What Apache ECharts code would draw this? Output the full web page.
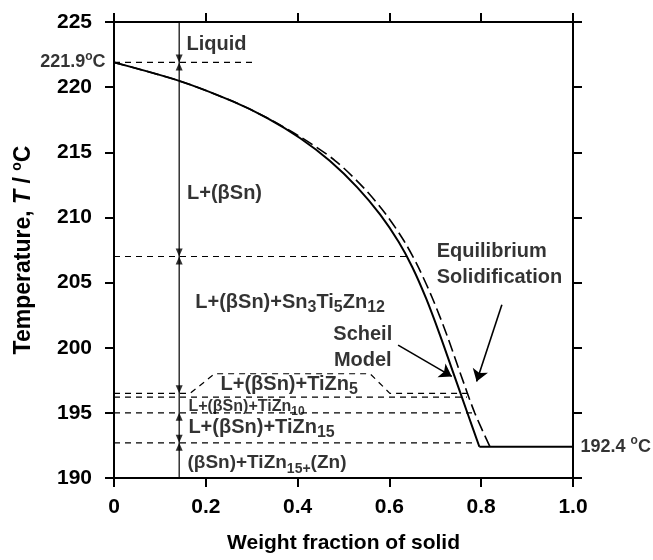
<!DOCTYPE html>
<html>
<head>
<meta charset="utf-8">
<script src="https://cdn.jsdelivr.net/npm/echarts@6/dist/echarts.min.js"></script>
<style>
  html, body { margin: 0; padding: 0; background: #fff; }
  #chart { width: 653px; height: 560px; }
</style>
</head>
<body>
<div id="chart"></div>
<script>
// Solidification path of the Sn-Zn-Ti alloy: temperature vs. weight fraction of solid
const scheilCurve = [
  [0, 221.9], [0.142, 220.48], [0.26, 218.89], [0.333, 217.65], [0.405, 216.1],
  [0.47, 214.35], [0.53, 212.31], [0.58, 210.21], [0.62, 208.13], [0.65, 206.18],
  [0.68, 203.78], [0.71, 200.99], [0.74, 197.99], [0.77, 194.99], [0.796, 192.4]
];
const equilibriumCurve = [
  [0, 221.9], [0.142, 220.48], [0.26, 218.89], [0.333, 217.65], [0.41, 216.1],
  [0.482, 214.35], [0.543, 212.31], [0.593, 210.21], [0.633, 208.13], [0.663, 206.18],
  [0.694, 203.78], [0.725, 200.99], [0.755, 197.99], [0.786, 194.99], [0.819, 192.4]
];
const eutecticLine = [[0.796, 192.4], [1.0, 192.4]];

// phase-field boundaries (temperature, extent along the fraction axis)
const liquidusLine = [[0, 221.9], [0.311, 221.9]];
const sn3ti5zn12Line = [[0, 207.0], [0.645, 207.0]];
const tizn5Line = [[0, 196.5], [0.166, 196.5], [0.219, 198.0], [0.558, 198.0], [0.601, 196.5], [0.776, 196.5]];
const tizn10Line = [[0, 196.2], [0.769, 196.2]];
const tizn15Line = [[0, 195.0], [0.781, 195.0]];
const znLine = [[0, 192.7], [0.79, 192.7]];

// vertical section through the phase fields
const sectionX = 0.142;
const sectionLine = [[sectionX, 225], [sectionX, 190]];
const arrowsDown = [221.9, 207.0, 196.5, 192.7];
const arrowsUp = [221.9, 207.0, 195.0, 192.7];

const xTicks = { min: 0, max: 1.0, interval: 0.2 };
const yTicks = { min: 190, max: 225, interval: 5 };

const FONT = 'Liberation Sans';
const baseRich = {
  b: { fontSize: 20, fontWeight: 'bold', lineHeight: 26, color: '#000', fontFamily: FONT },
  s: { fontSize: 16, fontWeight: 'bold', lineHeight: 17, verticalAlign: 'bottom', color: '#000', fontFamily: FONT },
  m: { fontSize: 16, fontWeight: 'bold', lineHeight: 22, color: '#000', fontFamily: FONT },
  ms: { fontSize: 12, fontWeight: 'bold', lineHeight: 14, verticalAlign: 'bottom', color: '#000', fontFamily: FONT },
  c: { fontSize: 18, fontWeight: 'bold', lineHeight: 24, color: '#000', fontFamily: FONT },
  sup: { fontSize: 12, fontWeight: 'bold', lineHeight: 12, verticalAlign: 'top', color: '#000', fontFamily: FONT },
  z: { fontSize: 19, fontWeight: 'bold', lineHeight: 26, color: '#000', fontFamily: FONT },
  zs: { fontSize: 14, fontWeight: 'bold', lineHeight: 16, verticalAlign: 'bottom', color: '#000', fontFamily: FONT }
};

// annotation texts, anchored in data coordinates
const notes = [
  { at: [0.157, 223.25], text: '{b|Liquid}', pos: 'right' },
  { at: [0, 221.9], text: '{c|221.9}{sup|o}{c|C}', pos: 'left', dist: 8 },
  { at: [0.158, 211.8], text: '{b|L+(βSn)}', pos: 'right' },
  { at: [0.176, 203.5], text: '{b|L+(βSn)+Sn}{s|3}{b|Ti}{s|5}{b|Zn}{s|12}', pos: 'right' },
  { at: [0.542, 200.0], text: '{b|Scheil}\n{b|Model}', pos: 'inside' },
  { at: [0.702, 206.4], text: '{b|Equilibrium}\n{b|Solidification}', pos: 'right' },
  { at: [0.231, 197.15], text: '{b|L+(βSn)+TiZn}{s|5}', pos: 'right' },
  { at: [0.161, 195.5], text: '{m|L+(βSn)+TiZn}{ms|10}', pos: 'right' },
  { at: [0.161, 193.85], text: '{b|L+(βSn)+TiZn}{s|15}', pos: 'right' },
  { at: [0.159, 191.15], text: '{z|(βSn)+TiZn}{zs|15+}{z|(Zn)}', pos: 'right' },
  { at: [1.0, 192.4], text: '{c|192.4 }{sup|o}{c|C}', pos: 'right', dist: 7 }
];

// callout arrows pointing at the two curves
const callouts = [
  [[0.619, 200.2], [0.736, 197.8]],
  [[0.845, 203.3], [0.790, 197.4]]
];

const guideStyle = { color: '#000', width: 1.2, type: [6, 5] };
function guide(data) {
  return { type: 'line', data: data, showSymbol: false, symbol: 'none', lineStyle: guideStyle, z: 2 };
}

const chart = echarts.init(document.getElementById('chart'), null, { renderer: 'canvas' });

const axisCommon = {
  axisLine: { show: true, onZero: false, lineStyle: { color: '#000', width: 2 } },
  axisTick: { show: true, inside: false, length: 9, lineStyle: { color: '#000', width: 2 } },
  splitLine: { show: false }
};

chart.setOption({
  animation: false,
  backgroundColor: '#fff',
  textStyle: { fontFamily: FONT, fontWeight: 'bold', color: '#000' },
  grid: { left: 114, right: 80, top: 22, bottom: 82, containLabel: false },
  xAxis: [
    Object.assign({
      type: 'value', position: 'bottom', min: xTicks.min, max: xTicks.max, interval: xTicks.interval,
      name: 'Weight fraction of solid', nameLocation: 'middle', nameGap: 55,
      nameTextStyle: { fontSize: 21, fontWeight: 'bold', color: '#000', fontFamily: FONT },
      axisLabel: {
        margin: 19, fontSize: 21, fontWeight: 'bold', color: '#000', fontFamily: FONT,
        formatter: v => (v === 0 ? '0' : (v === 1 ? '1.0' : String(+v.toFixed(1))))
      }
    }, axisCommon),
    Object.assign({
      type: 'value', position: 'top', min: xTicks.min, max: xTicks.max, interval: xTicks.interval,
      axisLabel: { show: false }
    }, axisCommon)
  ],
  yAxis: [
    Object.assign({
      type: 'value', position: 'left', min: yTicks.min, max: yTicks.max, interval: yTicks.interval,
      name: '{n|Temperature, }{i|T}{n| / }{o|o}{n|C}', nameLocation: 'middle', nameGap: 76, nameRotate: 90,
      nameTextStyle: {
        rich: {
          n: { fontSize: 23, fontWeight: 'bold', color: '#000', fontFamily: FONT, lineHeight: 28 },
          i: { fontSize: 23, fontWeight: 'bold', fontStyle: 'italic', color: '#000', fontFamily: FONT, lineHeight: 28 },
          o: { fontSize: 14, fontWeight: 'bold', color: '#000', fontFamily: FONT, lineHeight: 13, verticalAlign: 'top' }
        }
      },
      axisLabel: { margin: 22, fontSize: 21, fontWeight: 'bold', color: '#000', fontFamily: FONT }
    }, axisCommon),
    Object.assign({
      type: 'value', position: 'right', min: yTicks.min, max: yTicks.max, interval: yTicks.interval,
      axisLabel: { show: false }
    }, axisCommon)
  ],
  series: [
    // Scheil model (solid) and equilibrium solidification (dashed)
    { type: 'line', data: scheilCurve, smooth: 0.3, showSymbol: false, symbol: 'none',
      lineStyle: { color: '#000', width: 2 }, z: 4 },
    { type: 'line', data: eutecticLine, showSymbol: false, symbol: 'none',
      lineStyle: { color: '#000', width: 2 }, z: 4 },
    { type: 'line', data: equilibriumCurve, smooth: 0.3, showSymbol: false, symbol: 'none',
      lineStyle: { color: '#000', width: 1.6, type: [12, 5] }, z: 4 },

    guide(liquidusLine),
    guide(sn3ti5zn12Line),
    guide(tizn5Line),
    guide(tizn10Line),
    guide(tizn15Line),
    guide(znLine),

    { type: 'line', data: sectionLine, showSymbol: false, symbol: 'none',
      lineStyle: { color: '#000', width: 1.2 }, z: 3 },
    { type: 'scatter', data: arrowsDown.map(t => [sectionX, t]),
      symbol: 'path://M0,0 L10,0 L5,12 Z', symbolSize: [7, 8], symbolOffset: [0, '-50%'],
      itemStyle: { color: '#000' }, z: 5, silent: true },
    { type: 'scatter', data: arrowsUp.map(t => [sectionX, t]),
      symbol: 'path://M5,0 L10,12 L0,12 Z', symbolSize: [7, 8], symbolOffset: [0, '50%'],
      itemStyle: { color: '#000' }, z: 5, silent: true },

    { type: 'lines', coordinateSystem: 'cartesian2d', polyline: false,
      data: callouts.map(c => ({ coords: c })),
      symbol: ['none', 'arrow'], symbolSize: 12,
      lineStyle: { color: '#000', width: 1.6, opacity: 1 }, z: 6, silent: true },

    { type: 'scatter', symbol: 'circle', symbolSize: 1, silent: true, z: 7,
      itemStyle: { color: 'rgba(0,0,0,0)' },
      data: notes.map(n => ({
        value: n.at,
        label: {
          show: true, position: n.pos, distance: n.dist || 0,
          formatter: n.text, rich: baseRich, align: n.pos === 'inside' ? 'center' : undefined
        }
      }))
    }
  ]
});
</script>
</body>
</html>
